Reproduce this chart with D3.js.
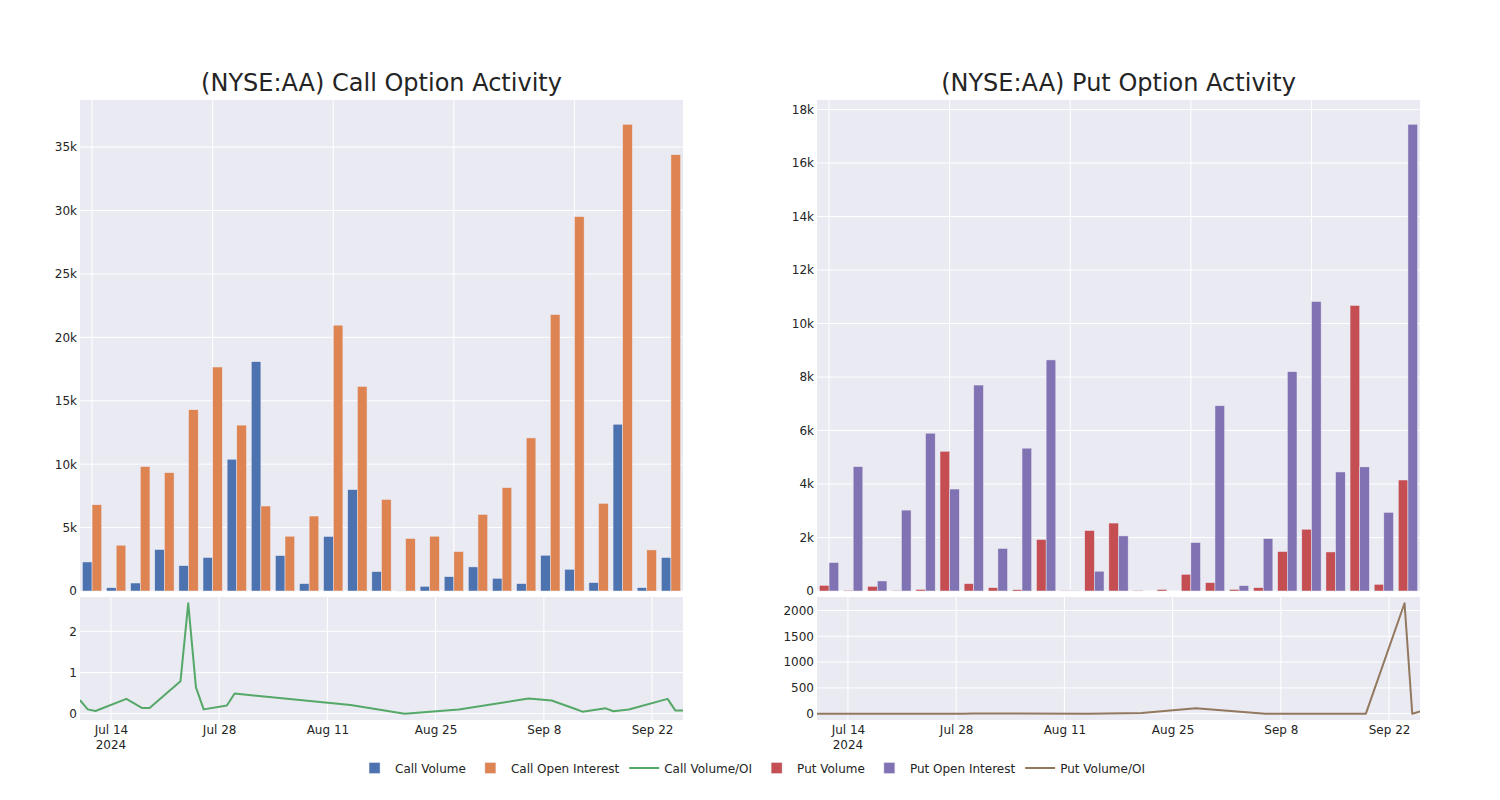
<!DOCTYPE html>
<html><head><meta charset="utf-8">
<script src="https://cdn.jsdelivr.net/npm/d3@7"></script>
<style>
body{margin:0;background:#fff;}
text{font-family:"DejaVu Sans",sans-serif;fill:rgb(36,36,36);}
</style>
</head><body>
<svg id="chart" width="1500" height="800"></svg>
<script>
// ---------- DATA ----------
const dates = ["2024-07-10","2024-07-11","2024-07-12","2024-07-16","2024-07-18","2024-07-19","2024-07-23","2024-07-24","2024-07-25","2024-07-26","2024-07-29","2024-07-30","2024-08-14","2024-08-21","2024-08-28","2024-09-06","2024-09-09","2024-09-12","2024-09-13","2024-09-16","2024-09-17","2024-09-19","2024-09-24","2024-09-25","2024-09-26"];
const callVolume = [2290,260,630,3270,2000,2640,10390,18080,2790,580,4300,7990,1530,20,370,1130,1900,1000,580,2820,1710,660,13150,260,2640];
const callOpenInterest = [6800,3610,9810,9330,14290,17660,13080,6700,4320,5910,20960,16130,7220,4140,4320,3110,6040,8150,12070,21800,29520,6910,36800,3240,34400];
const callVolumeOI = [0.33,0.105,0.065,0.36,0.14,0.14,0.79,2.68,0.64,0.105,0.2,0.49,0.21,0.0,0.1,0.37,0.32,0.12,0.05,0.13,0.06,0.1,0.36,0.08,0.075];
const putVolume = [212,30,175,20,60,5225,275,125,50,1925,15,2260,2540,25,60,625,312,60,125,1475,2310,1460,10675,250,4150];
const putOpenInterest = [1062,4650,375,3025,5900,3812,7700,1590,5340,8640,10,740,2060,0,0,1810,6925,200,1960,8200,10825,4450,4640,2940,17450];
const putVolumeOI = [0.2,0.01,0.47,0.01,0.01,1.37,0.04,0.08,0.01,0.22,1.5,3.05,1.23,12,105,0.35,0.05,0.3,0.06,0.18,0.21,0.33,2140,0.1,45];

const callYTicks = [0,5000,10000,15000,20000,25000,30000,35000];
const putYTicks = [0,2000,4000,6000,8000,10000,12000,14000,16000,18000];
const callRatioTicks = [0,1,2];
const putRatioTicks = [0,500,1000,1500,2000];
const dateTicks = ["2024-07-14","2024-07-28","2024-08-11","2024-08-25","2024-09-08","2024-09-22"];
const dateTickLabels = ["Jul 14","Jul 28","Aug 11","Aug 25","Sep 8","Sep 22"];
const yearLabel = "2024";
const categoryGridEvery = 5;

const titles = ["(NYSE:AA) Call Option Activity","(NYSE:AA) Put Option Activity"];
const legendNames = ["Call Volume","Call Open Interest","Call Volume/OI","Put Volume","Put Open Interest","Put Volume/OI"];
const legendKinds = ["bar","bar","line","bar","bar","line"];
const colors = ["#4C72B0","#DD8452","#55A868","#C44E52","#8172B3","#937860"];

// ---------- LAYOUT ----------
const svg = d3.select("#chart");
svg.append("rect").attr("width",1500).attr("height",800).attr("fill","#fff");
const BG = "#EAEAF2";
const topY = [100, 591];
const botY = [597, 720];
const parse = d3.timeParse("%Y-%m-%d");
const dateObjs = dates.map(parse);

function kfmt(d){ return d===0 ? "0" : (d/1000)+"k"; }

function panel(cfg){
  const [x0,x1] = cfg.xr;
  const g = svg.append("g");
  // title
  g.append("text").attr("x",(x0+x1)/2).attr("y",91).attr("text-anchor","middle")
    .style("font-size","24px").text(cfg.title);

  // ---- top bar chart ----
  g.append("rect").attr("x",x0).attr("y",topY[0]).attr("width",x1-x0).attr("height",topY[1]-topY[0]).attr("fill",BG);
  const xb = d3.scaleBand().domain(d3.range(dates.length)).range([x0,x1]).paddingInner(0.2).paddingOuter(0.1);
  const maxV = d3.max(cfg.a.concat(cfg.b));
  const yb = d3.scaleLinear().domain([0, maxV*1.052]).range([topY[1], topY[0]]);
  // grids
  g.selectAll(null).data(cfg.yTicks).enter().append("line")
    .attr("x1",x0).attr("x2",x1).attr("y1",d=>yb(d)).attr("y2",d=>yb(d))
    .attr("stroke","#fff").attr("stroke-width",1);
  g.selectAll(null).data(d3.range(0,dates.length,categoryGridEvery)).enter().append("line")
    .attr("x1",i=>xb(i)+xb.bandwidth()/2).attr("x2",i=>xb(i)+xb.bandwidth()/2)
    .attr("y1",topY[0]).attr("y2",topY[1]).attr("stroke","#fff").attr("stroke-width",1);
  const yAxis = d3.axisLeft(yb).tickValues(cfg.yTicks).tickFormat(kfmt).tickSize(0).tickPadding(3);
  const ya = g.append("g").attr("transform",`translate(${x0},0)`).call(yAxis);
  ya.select(".domain").remove();
  ya.selectAll("text").style("font-size","12px").attr("fill","rgb(36,36,36)");
  const bw = xb.bandwidth()/2;
  [cfg.a, cfg.b].forEach((arr,j)=>{
    g.selectAll(null).data(arr).enter().append("rect")
      .attr("x",(d,i)=>xb(i)+j*bw).attr("width",bw)
      .attr("y",d=>yb(d)).attr("height",d=>Math.max(0,topY[1]-yb(d)))
      .attr("fill",cfg.colors[j]).attr("stroke",BG).attr("stroke-width",0.5);
  });

  // ---- bottom line chart ----
  g.append("rect").attr("x",x0).attr("y",botY[0]).attr("width",x1-x0).attr("height",botY[1]-botY[0]).attr("fill",BG);
  const xt = d3.scaleTime().domain(d3.extent(dateObjs)).range([x0,x1]);
  const rmin = d3.min(cfg.ratio), rmax = d3.max(cfg.ratio);
  const pad = (rmax-rmin)*0.057;
  const yl = d3.scaleLinear().domain([rmin-pad, rmax+pad]).range([botY[1], botY[0]]);
  g.selectAll(null).data(cfg.rTicks).enter().append("line")
    .attr("x1",x0).attr("x2",x1).attr("y1",d=>yl(d)).attr("y2",d=>yl(d))
    .attr("stroke","#fff").attr("stroke-width",1);
  const tdates = dateTicks.map(parse);
  g.selectAll(null).data(tdates).enter().append("line")
    .attr("x1",d=>xt(d)).attr("x2",d=>xt(d)).attr("y1",botY[0]).attr("y2",botY[1])
    .attr("stroke","#fff").attr("stroke-width",1);
  const ra = g.append("g").attr("transform",`translate(${x0},0)`)
    .call(d3.axisLeft(yl).tickValues(cfg.rTicks).tickSize(0).tickPadding(3).tickFormat(d3.format("d")));
  ra.select(".domain").remove();
  ra.selectAll("text").style("font-size","12px").attr("fill","rgb(36,36,36)");
  const xa = g.append("g").attr("transform",`translate(0,${botY[1]})`)
    .call(d3.axisBottom(xt).tickValues(tdates).tickSize(0).tickPadding(5).tickFormat((d,i)=>dateTickLabels[i]));
  xa.select(".domain").remove();
  xa.selectAll("text").style("font-size","12px").attr("fill","rgb(36,36,36)");
  g.append("text").attr("x",xt(tdates[0])).attr("y",749).attr("text-anchor","middle")
    .style("font-size","12px").text(yearLabel);
  const clipId = "clip"+cfg.id;
  svg.append("clipPath").attr("id",clipId).append("rect")
    .attr("x",x0).attr("y",botY[0]).attr("width",x1-x0).attr("height",botY[1]-botY[0]);
  const line = d3.line().x((d,i)=>xt(dateObjs[i])).y(d=>yl(d));
  g.append("path").datum(cfg.ratio).attr("d",line).attr("fill","none")
    .attr("stroke",cfg.colors[2]).attr("stroke-width",2).attr("stroke-linejoin","round")
    .attr("clip-path",`url(#${clipId})`);
}

panel({id:"L", xr:[80,683], title:titles[0], a:callVolume, b:callOpenInterest, ratio:callVolumeOI,
  colors:colors.slice(0,3), yTicks:callYTicks, rTicks:callRatioTicks});
panel({id:"R", xr:[817,1420], title:titles[1], a:putVolume, b:putOpenInterest, ratio:putVolumeOI,
  colors:colors.slice(3,6), yTicks:putYTicks, rTicks:putRatioTicks});

// ---------- LEGEND ----------
const lg = svg.append("g");
let cx = 0;
const items = [];
legendNames.forEach((name,i)=>{
  const it = lg.append("g").attr("transform",`translate(${cx},0)`);
  if(legendKinds[i]==="bar"){
    it.append("rect").attr("x",14).attr("y",-5.5).attr("width",11).attr("height",11)
      .attr("fill",colors[i]).attr("stroke",BG).attr("stroke-width",0.5);
  } else {
    it.append("line").attr("x1",5).attr("x2",35).attr("y1",0).attr("y2",0)
      .attr("stroke",colors[i]).attr("stroke-width",2);
  }
  const t = it.append("text").attr("x",40).attr("y",4.5).style("font-size","12px").text(name);
  const w = t.node().getComputedTextLength();
  cx += 40 + w + 5;
});
const totalW = cx - 5;
lg.attr("transform",`translate(${750-totalW/2},768)`);
</script>
</body></html>
